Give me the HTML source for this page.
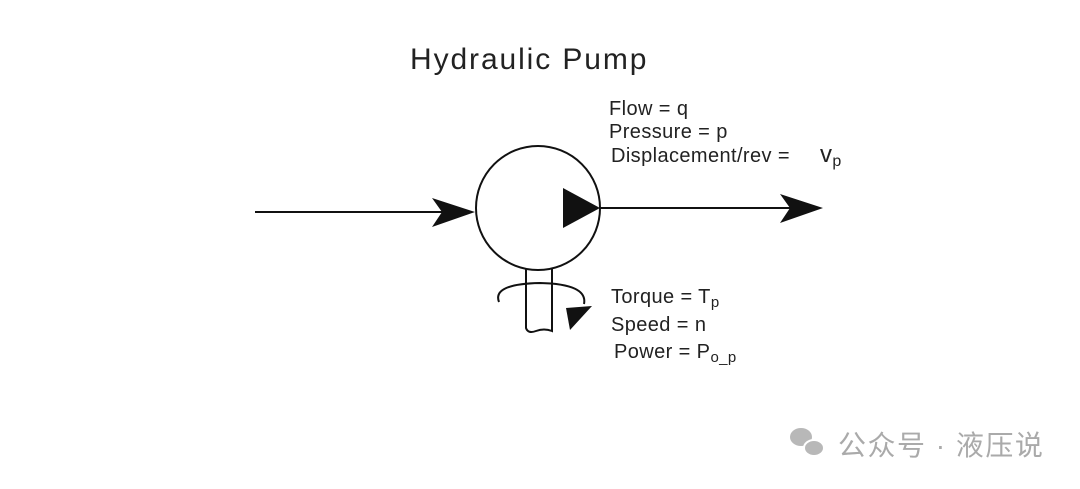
<!DOCTYPE html>
<html><head><meta charset="utf-8"><style>
body{margin:0;background:#fff;}
svg{display:block}
text{font-family:"Liberation Sans",sans-serif;fill:#222}
</style></head><body>
<svg width="1080" height="489" viewBox="0 0 1080 489">
<text x="410" y="69" font-size="30" letter-spacing="1.9">Hydraulic Pump</text>
<g font-size="20" letter-spacing="0.4">
<text x="609" y="115">Flow = q</text>
<text x="609" y="138">Pressure = p</text>
<text x="611" y="162">Displacement/rev =<tspan font-size="24" dx="30">v</tspan><tspan font-size="16" dy="4">p</tspan></text>
<text x="611" y="303">Torque = T<tspan font-size="15" dy="4">p</tspan></text>
<text x="611" y="331">Speed = n</text>
<text x="614" y="358">Power = P<tspan font-size="15" dy="4">o_p</tspan></text>
</g>
<g stroke="#111" stroke-width="2" fill="none">
<line x1="255" y1="212" x2="470" y2="212"/>
<circle cx="538" cy="208" r="62"/>
<line x1="600" y1="208" x2="790" y2="208"/>
<path d="M526 268 V328 Q528 334 536 331 Q544 328 552 331 V268"/>
<path d="M499 302 Q492 284 540 283 Q588 284 584 304"/>
</g>
<path d="M475 212 L432 198 L442 212 L432 227 Z" fill="#111"/>
<path d="M600 208 L563 188 L563 228 Z" fill="#111"/>
<path d="M823 208 L780 194 L790 208 L780 223 Z" fill="#111"/>
<path d="M592 306 L570 330 L566 308 Z" fill="#111"/>
<g fill="#b8b8b8">
<ellipse cx="801" cy="437" rx="11" ry="9"/>
<ellipse cx="814" cy="448" rx="10" ry="8" stroke="#fff" stroke-width="2"/>
</g>
<text x="838" y="455" font-size="28" letter-spacing="1.5" style="font-family:'Liberation Sans','Noto Sans CJK SC',sans-serif;fill:#aaa">公众号 · 液压说</text>
</svg>
</body></html>
